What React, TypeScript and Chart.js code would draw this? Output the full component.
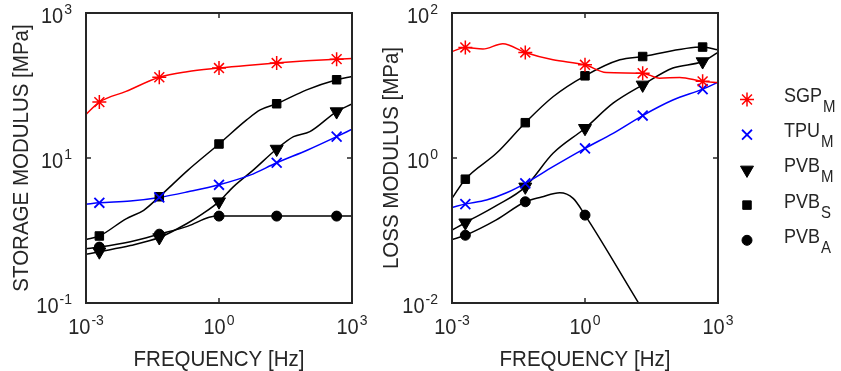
import React, { useEffect, useRef } from 'react';
import { Chart, registerables } from 'chart.js';

Chart.register(...registerables);

const FONT = '"Liberation Sans", Arial, Helvetica, sans-serif';
const INK = '#262626';
const SY = 1.08; // vertical stretch of glyphs

// ---------- axis ticks ----------
const xTickValues = [0.001, 1, 1000];
const xTickExps = ['-3', '0', '3'];
const storageTickValues = [0.1, 10, 1000];
const storageTickExps = ['-1', '1', '3'];
const lossTickValues = [0.01, 1, 100];
const lossTickExps = ['-2', '0', '2'];

// ---------- legend ----------
const seriesNames = ['SGP', 'TPU', 'PVB', 'PVB', 'PVB'];
const seriesSubs = ['M', 'M', 'M', 'S', 'A'];

// ---------- measured points (markers) ----------
const markerFreq = [0.002, 0.045, 1, 20, 450];
const markerFreqLossA = [0.002, 0.045, 1];

const storageSGP = [59, 130, 174, 204, 231];
const storageTPU = [2.41, 2.86, 4.27, 8.6, 19.7];
const storagePVBM = [0.51, 0.8, 2.5, 13.3, 43.7];
const storagePVBS = [0.84, 2.92, 15.6, 56, 120];
const storagePVBA = [0.59, 0.89, 1.58, 1.58, 1.58];

const lossSGP = [33.5, 28.6, 19.3, 14.8, 11.4];
const lossTPU = [0.231, 0.447, 1.36, 3.85, 8.9];
const lossPVBM = [0.128, 0.4, 2.57, 10.2, 21.4];
const lossPVBS = [0.51, 3.07, 13.6, 25.1, 33.9];
const lossPVBA = [0.086, 0.249, 0.163];

// ---------- fitted curves ----------
const storageSGPCurveF = [0.001, 0.002, 0.008, 0.045, 0.19, 1, 4.2, 20, 95, 450, 1000];
const storageSGPCurve = [40, 59, 83, 130, 155, 174, 189, 204, 219, 231, 236];
const storageTPUCurveF = [0.001, 0.002, 0.01, 0.045, 0.2, 1, 5, 20, 100, 450, 1000];
const storageTPUCurve = [2.31, 2.41, 2.55, 2.86, 3.42, 4.27, 5.8, 8.6, 12.9, 19.7, 24.9];
const storagePVBMCurveF = [0.001, 0.002, 0.01, 0.045, 0.19, 0.44, 1, 2.1, 5.9, 20, 48, 112, 450, 1000];
const storagePVBMCurve = [0.47, 0.51, 0.62, 0.8, 1.25, 1.72, 2.5, 4.0, 6.8, 13.3, 19.7, 23.1, 43.7, 55.7];
const storagePVBSCurveF = [0.001, 0.002, 0.008, 0.02, 0.045, 0.2, 1, 4.2, 8.5, 20, 95, 450, 1000];
const storagePVBSCurve = [0.75, 0.84, 1.45, 1.9, 2.92, 6.8, 15.6, 33.5, 46, 56, 87, 120, 133];
const storagePVBACurveF = [0.001, 0.002, 0.01, 0.045, 0.2, 0.6, 1, 3, 20, 450, 1000];
const storagePVBACurve = [0.56, 0.59, 0.7, 0.89, 1.15, 1.52, 1.58, 1.58, 1.58, 1.58, 1.58];

const lossSGPCurveF = [0.001, 0.002, 0.005, 0.014, 0.045, 0.19, 1, 3, 20, 48, 137, 450, 1000];
const lossSGPCurve = [29.4, 33.5, 31.8, 37.7, 28.6, 22.6, 19.3, 15.1, 14.8, 12.6, 12.9, 11.4, 11];
const lossTPUCurveF = [0.001, 0.002, 0.006, 0.017, 0.045, 0.19, 1, 4.3, 20, 96, 450, 1000];
const lossTPUCurve = [0.208, 0.231, 0.263, 0.331, 0.447, 0.76, 1.36, 2.19, 3.85, 6.3, 8.9, 11.1];
const lossPVBMCurveF = [0.001, 0.002, 0.01, 0.045, 0.19, 1, 4.3, 20, 96, 450, 1000];
const lossPVBMCurve = [0.101, 0.128, 0.22, 0.4, 1.16, 2.57, 5.7, 10.2, 17.4, 21.4, 28.6];
const lossPVBSCurveF = [0.001, 0.002, 0.01, 0.045, 0.19, 1, 6.1, 20, 450, 1000];
const lossPVBSCurve = [0.277, 0.51, 1.16, 3.07, 7.0, 13.6, 22.6, 25.1, 33.9, 31.1];
const lossPVBACurveF = [0.001, 0.002, 0.01, 0.045, 0.105, 0.27, 0.54, 1, 15.7, 1000];
const lossPVBACurve = [0.075, 0.086, 0.14, 0.249, 0.29, 0.331, 0.277, 0.163, 0.0103, 0.000165];

// ---------- styles ----------
const styles = [
  { color: '#ff0000', pointStyle: 'star', radius: 7, rotation: 0, fill: false, bw: 1.5 },
  { color: '#0000ff', pointStyle: 'crossRot', radius: 7, rotation: 0, fill: false, bw: 1.8 },
  { color: '#000000', pointStyle: 'triangle', radius: 7.5, rotation: 180, fill: true, bw: 1 },
  { color: '#000000', pointStyle: 'rect', radius: 6, rotation: 0, fill: true, bw: 1 },
  { color: '#000000', pointStyle: 'circle', radius: 5, rotation: 0, fill: true, bw: 1 },
];

function pts(xs: number[], ys: number[]) {
  return xs.map((x, i) => ({ x, y: ys[i] }));
}

function buildDatasets(mx: number[][], my: number[][], cx: number[][], cy: number[][]) {
  const markers = styles.map((s, i) => ({
    data: pts(mx[i], my[i]),
    showLine: false,
    pointStyle: s.pointStyle,
    pointRadius: s.radius,
    pointHoverRadius: s.radius,
    pointRotation: s.rotation,
    pointBorderColor: s.color,
    pointBackgroundColor: s.fill ? s.color : 'rgba(0,0,0,0)',
    pointBorderWidth: s.bw,
  }));
  const curves = styles.map((s, i) => ({
    data: pts(cx[i], cy[i]),
    borderColor: s.color,
    borderWidth: 1.5,
    pointRadius: 0,
    pointHoverRadius: 0,
    cubicInterpolationMode: 'monotone',
    fill: false,
    clip: 0,
  }));
  return [...markers, ...curves];
}

function drawText(ctx: CanvasRenderingContext2D, s: string, x: number, y: number, size: number, align: CanvasTextAlign) {
  ctx.save();
  ctx.translate(x, y);
  ctx.scale(1, SY);
  ctx.font = `${size}px ${FONT}`;
  ctx.textAlign = align;
  ctx.textBaseline = 'alphabetic';
  ctx.fillStyle = INK;
  ctx.fillText(s, 0, 0);
  ctx.restore();
}

function powLabel(ctx: CanvasRenderingContext2D, exp: string, x: number, baseline: number, align: 'center' | 'right') {
  ctx.font = `20px ${FONT}`;
  const w1 = ctx.measureText('10').width;
  ctx.font = `14px ${FONT}`;
  const w2 = ctx.measureText(exp).width;
  const total = w1 + 1 + w2;
  const left = align === 'center' ? x - total / 2 : x - total;
  drawText(ctx, '10', left, baseline, 20, 'left');
  drawText(ctx, exp, left + w1 + 1, baseline - 9, 14, 'left');
}

function drawMarker(ctx: CanvasRenderingContext2D, idx: number, x: number, y: number) {
  const s = styles[idx];
  const r = s.radius;
  ctx.save();
  ctx.strokeStyle = s.color;
  ctx.fillStyle = s.color;
  ctx.lineWidth = s.bw;
  ctx.beginPath();
  if (s.pointStyle === 'star') {
    ctx.moveTo(x - r, y); ctx.lineTo(x + r, y);
    ctx.moveTo(x, y - r); ctx.lineTo(x, y + r);
    const d = r * Math.SQRT1_2;
    ctx.moveTo(x - d, y - d); ctx.lineTo(x + d, y + d);
    ctx.moveTo(x - d, y + d); ctx.lineTo(x + d, y - d);
    ctx.stroke();
  } else if (s.pointStyle === 'crossRot') {
    const d = r * Math.SQRT1_2;
    ctx.moveTo(x - d, y - d); ctx.lineTo(x + d, y + d);
    ctx.moveTo(x - d, y + d); ctx.lineTo(x + d, y - d);
    ctx.stroke();
  } else if (s.pointStyle === 'triangle') {
    let a = Math.PI;
    ctx.moveTo(x + Math.sin(a) * r, y - Math.cos(a) * r);
    a += (2 * Math.PI) / 3;
    ctx.lineTo(x + Math.sin(a) * r, y - Math.cos(a) * r);
    a += (2 * Math.PI) / 3;
    ctx.lineTo(x + Math.sin(a) * r, y - Math.cos(a) * r);
    ctx.closePath();
    ctx.fill(); ctx.stroke();
  } else if (s.pointStyle === 'rect') {
    const h = r * Math.SQRT1_2;
    ctx.rect(x - h, y - h, 2 * h, 2 * h);
    ctx.fill(); ctx.stroke();
  } else {
    ctx.arc(x, y, r, 0, Math.PI * 2);
    ctx.fill(); ctx.stroke();
  }
  ctx.restore();
}

type DecorCfg = {
  yTitle: string;
  yTickValues: number[];
  yTickExps: string[];
  legend: boolean;
};

function decorPlugin(cfg: DecorCfg) {
  return {
    id: 'decor',
    afterDraw(chart: any) {
      const { ctx, chartArea: a, scales } = chart;
      const xs = scales.x;
      const ys = scales.y;
      ctx.save();
      ctx.strokeStyle = INK;
      ctx.lineWidth = 2;
      ctx.strokeRect(a.left, a.top, a.right - a.left, a.bottom - a.top);
      ctx.lineWidth = 1.5;
      const seg = (x1: number, y1: number, x2: number, y2: number) => {
        ctx.beginPath(); ctx.moveTo(x1, y1); ctx.lineTo(x2, y2); ctx.stroke();
      };
      xTickValues.forEach((v, i) => {
        const px = xs.getPixelForValue(v);
        seg(px, a.bottom, px, a.bottom - 5);
        seg(px, a.top, px, a.top + 5);
        powLabel(ctx, xTickExps[i], px, 334, 'center');
      });
      cfg.yTickValues.forEach((v, i) => {
        const py = ys.getPixelForValue(v);
        seg(a.left, py, a.left + 5, py);
        seg(a.right, py, a.right - 5, py);
        powLabel(ctx, cfg.yTickExps[i], a.left - 14, py + 10, 'right');
      });
      // x title
      drawText(ctx, 'FREQUENCY [Hz]', (a.left + a.right) / 2, 366, 20.5, 'center');
      // y title
      ctx.save();
      ctx.translate(28, (a.top + a.bottom) / 2);
      ctx.rotate(-Math.PI / 2);
      ctx.scale(1, SY);
      ctx.font = `20.5px ${FONT}`;
      ctx.textAlign = 'center';
      ctx.textBaseline = 'alphabetic';
      ctx.fillStyle = INK;
      ctx.fillText(cfg.yTitle, 0, 0);
      ctx.restore();
      if (cfg.legend) {
        const mx = a.right + 29;
        const tx = a.right + 66;
        seriesNames.forEach((name, i) => {
          const ry = 99.5 + i * 35.2;
          drawMarker(ctx, i, mx, ry);
          ctx.font = `18px ${FONT}`;
          const w = ctx.measureText(name).width;
          drawText(ctx, name, tx, ry + 2.5, 18, 'left');
          drawText(ctx, seriesSubs[i], tx + w + 1, ry + 12.5, 15, 'left');
        });
      }
      ctx.restore();
    },
  };
}

function makeConfig(datasets: any[], padding: any, yMin: number, yMax: number, cfg: DecorCfg) {
  return {
    type: 'line',
    data: { datasets },
    options: {
      responsive: false,
      animation: false,
      events: [],
      layout: { padding },
      plugins: { legend: { display: false }, tooltip: { enabled: false }, title: { display: false } },
      scales: {
        x: { type: 'logarithmic', min: 0.001, max: 1000, display: false },
        y: { type: 'logarithmic', min: yMin, max: yMax, display: false },
      },
    },
    plugins: [decorPlugin(cfg)],
  } as any;
}

export default function App() {
  const leftRef = useRef<HTMLCanvasElement>(null);
  const rightRef = useRef<HTMLCanvasElement>(null);

  useEffect(() => {
    const leftData = buildDatasets(
      [markerFreq, markerFreq, markerFreq, markerFreq, markerFreq],
      [storageSGP, storageTPU, storagePVBM, storagePVBS, storagePVBA],
      [storageSGPCurveF, storageTPUCurveF, storagePVBMCurveF, storagePVBSCurveF, storagePVBACurveF],
      [storageSGPCurve, storageTPUCurve, storagePVBMCurve, storagePVBSCurve, storagePVBACurve]
    );
    const rightData = buildDatasets(
      [markerFreq, markerFreq, markerFreq, markerFreq, markerFreqLossA],
      [lossSGP, lossTPU, lossPVBM, lossPVBS, lossPVBA],
      [lossSGPCurveF, lossTPUCurveF, lossPVBMCurveF, lossPVBSCurveF, lossPVBACurveF],
      [lossSGPCurve, lossTPUCurve, lossPVBMCurve, lossPVBSCurve, lossPVBACurve]
    );
    const c1 = new Chart(
      leftRef.current!,
      makeConfig(leftData, { left: 86, right: 18, top: 13, bottom: 68 }, 0.1, 1000, {
        yTitle: 'STORAGE MODULUS [MPa]',
        yTickValues: storageTickValues,
        yTickExps: storageTickExps,
        legend: false,
      })
    );
    const c2 = new Chart(
      rightRef.current!,
      makeConfig(rightData, { left: 82, right: 123, top: 13, bottom: 68 }, 0.01, 100, {
        yTitle: 'LOSS MODULUS [MPa]',
        yTickValues: lossTickValues,
        yTickExps: lossTickExps,
        legend: true,
      })
    );
    return () => {
      c1.destroy();
      c2.destroy();
    };
  }, []);

  return (
    <div style={{ position: 'absolute', left: 0, top: 0, width: 841, height: 371, background: '#fff' }}>
      <canvas ref={leftRef} width={370} height={371} style={{ position: 'absolute', left: 0, top: 0 }} />
      <canvas ref={rightRef} width={471} height={371} style={{ position: 'absolute', left: 370, top: 0 }} />
    </div>
  );
}
